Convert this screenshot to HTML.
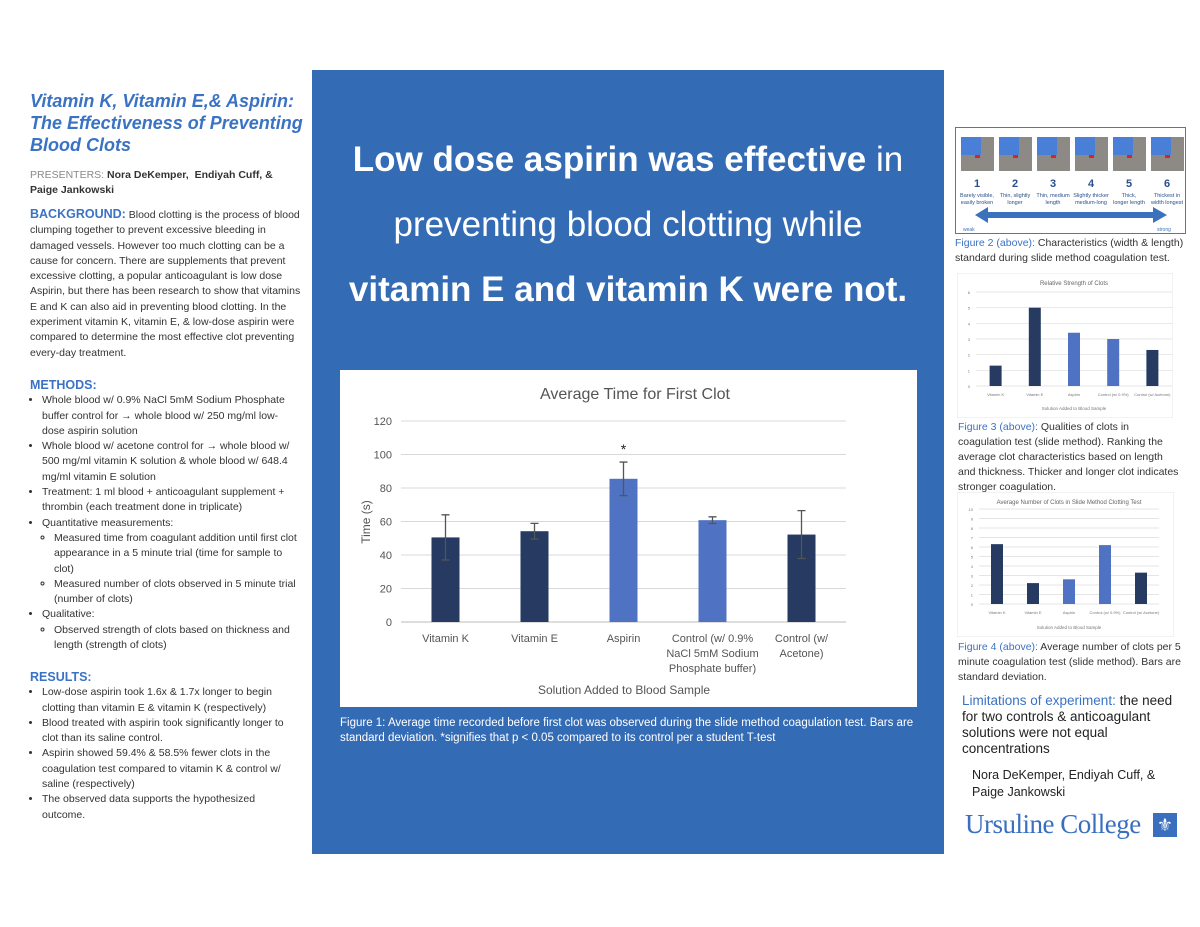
<!DOCTYPE html>
<html><head><meta charset="utf-8"><style>
body{margin:0;width:1200px;height:927px;background:#fff;position:relative;overflow:hidden;font-family:"Liberation Sans",sans-serif;color:#222}
.a{position:absolute}
.lc{font-size:10.5px;line-height:15.3px;color:#333}
.h{color:#3a72c4;font-weight:bold}
ul{margin:0;padding-left:12px}
li{margin:0}
.cap{font-size:10.5px;line-height:15px;color:#333}
.blue{color:#3a72c4}
</style></head><body>
<div class="a" style="left:30px;top:90px;width:280px;font-size:18px;line-height:22px;font-weight:bold;font-style:italic;color:#3a72c4">Vitamin K, Vitamin E,&amp; Aspirin: The Effectiveness of Preventing Blood Clots</div>
<div class="a lc" style="left:30px;top:168px;width:268px"><span style="color:#888">PRESENTERS:</span> <b>Nora DeKemper,&nbsp; Endiyah Cuff, &amp; Paige Jankowski</b></div>
<div class="a lc" style="left:30px;top:207px;width:275px"><span class="h" style="font-size:12.5px">BACKGROUND:</span> Blood clotting is the process of blood clumping together to prevent excessive bleeding in damaged vessels. However too much clotting can be a cause for concern. There are supplements that prevent excessive clotting, a popular anticoagulant is low dose Aspirin, but there has been research to show that vitamins E and K can also aid in preventing blood clotting. In the experiment vitamin K, vitamin E, &amp; low-dose aspirin were compared to determine the most effective clot preventing every-day treatment.</div>
<div class="a lc" style="left:30px;top:378px;width:268px"><div class="h" style="font-size:12.5px">METHODS:</div><ul>
<li>Whole blood w/ 0.9% NaCl 5mM Sodium Phosphate buffer control for → whole blood w/ 250 mg/ml low-dose aspirin solution</li>
<li>Whole blood w/ acetone control for → whole blood w/ 500 mg/ml vitamin K solution &amp; whole blood w/ 648.4 mg/ml vitamin E solution</li>
<li>Treatment: 1 ml blood + anticoagulant supplement + thrombin (each treatment done in triplicate)</li>
<li>Quantitative measurements:<ul><li>Measured time from coagulant addition until first clot appearance in a 5 minute trial (time for sample to clot)</li><li>Measured number of clots observed in 5 minute trial (number of clots)</li></ul></li>
<li>Qualitative:<ul><li>Observed strength of clots based on thickness and length (strength of clots)</li></ul></li></ul></div>
<div class="a lc" style="left:30px;top:670px;width:268px"><div class="h" style="font-size:12.5px">RESULTS:</div><ul>
<li>Low-dose aspirin took 1.6x &amp; 1.7x longer to begin clotting than vitamin E &amp; vitamin K (respectively)</li>
<li>Blood treated with aspirin took significantly longer to clot than its saline control.</li>
<li>Aspirin showed 59.4% &amp; 58.5% fewer clots in the coagulation test compared to vitamin K &amp; control w/ saline (respectively)</li>
<li>The observed data supports the hypothesized outcome.</li></ul></div>

<div class="a" style="left:312px;top:70px;width:632px;height:784px;background:#346bb5"></div>
<div class="a" style="left:312px;top:127px;width:632px;text-align:center;color:#fff;font-size:35px;line-height:65px"><b>Low dose aspirin was effective</b> in<br>preventing blood clotting while<br><b>vitamin E and vitamin K were not.</b></div>

<svg class="a" id="fig1" style="left:340px;top:370px" width="577" height="337"></svg>
<div class="a" style="left:340px;top:716px;width:590px;color:#fff;font-size:11.5px;line-height:15px">Figure 1: Average time recorded before first clot was observed during the slide method coagulation test. Bars are standard deviation. *signifies that p &lt; 0.05 compared to its control per a student T-test</div>

<svg class="a" id="fig2" style="left:955px;top:127px" width="231" height="107"></svg>
<div class="a cap" style="left:955px;top:236px;width:230px"><span class="blue">Figure 2 (above):</span> Characteristics (width &amp; length) standard during slide method coagulation test.</div>
<svg class="a" id="fig3" style="left:957px;top:273px" width="216" height="145"></svg>
<div class="a cap" style="left:958px;top:420px;width:225px"><span class="blue">Figure 3 (above):</span> Qualities of clots in coagulation test (slide method). Ranking the average clot characteristics based on length and thickness. Thicker and longer clot indicates stronger coagulation.</div>
<svg class="a" id="fig4" style="left:957px;top:492px" width="217" height="145"></svg>
<div class="a cap" style="left:958px;top:640px;width:225px"><span class="blue">Figure 4 (above):</span> Average number of clots per 5 minute coagulation test (slide method). Bars are standard deviation.</div>
<div class="a" style="left:962px;top:693px;width:212px;font-size:13.5px;line-height:16px;color:#222"><span class="blue">Limitations of experiment:</span> the need for two controls &amp; anticoagulant solutions were not equal concentrations</div>
<div class="a" style="left:972px;top:767px;width:205px;font-size:12.5px;line-height:16.5px;color:#222">Nora DeKemper, Endiyah Cuff, &amp; Paige Jankowski</div>
<div class="a" style="left:965px;top:809px;font-family:'Liberation Serif',serif;font-size:27px;color:#3a6fc0;letter-spacing:-0.5px">Ursuline College</div>
<div class="a" style="left:1153px;top:813px;width:24px;height:24px;background:#3a6fc0;color:#fff;font-size:18px;line-height:24px;text-align:center">⚜</div>

<script>
const NS="http://www.w3.org/2000/svg";
function mk(p,t,a){const e=document.createElementNS(NS,t);for(const k in a)e.setAttribute(k,a[k]);p.appendChild(e);return e;}
// Figure 1 data
const cats1=["Vitamin K","Vitamin E","Aspirin","Control (w/ 0.9%|NaCl 5mM Sodium|Phosphate buffer)","Control (w/|Acetone)"];
const vals1=[50.5,54.2,85.5,60.8,52.2];
const errs1=[13.5,4.7,10,2,14.3];
const cols1=["#263a62","#263a62","#4f73c2","#4f73c2","#263a62"];
const ticks1=[0,20,40,60,80,100,120];
const sig1=[false,false,true,false,false];
(function(){
 const s=document.getElementById('fig1');
 mk(s,'rect',{x:0,y:0,width:577,height:337,fill:'#fff'});
 const x0=61,x1=506,yb=252,yt=51,max=120;
 const Y=v=>yb-(v/max)*(yb-yt);
 const bw=(x1-x0)/cats1.length;
 let t=mk(s,'text',{x:295,y:29,'text-anchor':'middle','font-size':16,fill:'#555'});t.textContent="Average Time for First Clot";
 
 ticks1.forEach(v=>{const l=mk(s,'line',{x1:x0,x2:x1,y1:Y(v),y2:Y(v),stroke:v?'#d9d9d9':'#bbb'});
  
  const tt=mk(s,'text',{x:x0-9,y:Y(v)+4,'text-anchor':'end','font-size':11,fill:'#555'});tt.textContent=v;
  });
 cats1.forEach((c,i)=>{const cx=x0+bw*(i+0.5);
  const r=mk(s,'rect',{x:cx-14,y:Y(vals1[i]),width:28,height:yb-Y(vals1[i]),fill:cols1[i]});
  
  const eh=Y(vals1[i]+errs1[i]),el=Y(vals1[i]-errs1[i]);
  const g=mk(s,'path',{d:`M${cx},${eh}V${el}M${cx-4},${eh}H${cx+4}M${cx-4},${el}H${cx+4}`,stroke:'#555','stroke-width':1.3,fill:'none'});
  
  if(sig1[i]){const a=mk(s,'text',{x:cx,y:eh-8,'text-anchor':'middle','font-size':14,fill:'#222'});a.textContent='*';
   }
  c.split('|').forEach((ln,j)=>{const tt=mk(s,'text',{x:cx,y:272+j*15,'text-anchor':'middle','font-size':11,fill:'#555'});tt.textContent=ln;
   });
 });
 t=mk(s,'text',{x:284,y:324,'text-anchor':'middle','font-size':12,fill:'#555'});t.textContent="Solution Added to Blood Sample";
 
 t=mk(s,'text',{x:0,y:0,'text-anchor':'middle','font-size':12,fill:'#555',transform:'translate(30,152) rotate(-90)'});t.textContent="Time (s)";
 
})();
// Figure 2 illustration
const stages2=["1","2","3","4","5","6"];
const desc2=["Barely visible,|easily broken","Thin, slightly|longer","Thin, medium|length","Slightly thicker|medium-long","Thick,|longer length","Thickest in|width longest"];
(function(){
 const s=document.getElementById('fig2');
 mk(s,'rect',{x:0.5,y:0.5,width:230,height:106,fill:'#fff',stroke:'#4a78c0'});
 stages2.forEach((n,i)=>{const x=6+i*38;
  const r=mk(s,'rect',{x:x,y:10,width:33,height:34,fill:'#8d8a86'});
  mk(s,'rect',{x:x,y:10,width:20,height:18,fill:'#4a7fd8'});
  mk(s,'rect',{x:x+14,y:28,width:5,height:3,fill:'#d22'});
  const t=mk(s,'text',{x:x+16,y:60,'text-anchor':'middle','font-size':11,'font-weight':'bold',fill:'#2a4f8a'});t.textContent=n;
  
  desc2[i].split('|').forEach((d,j)=>{const tt=mk(s,'text',{x:x+16,y:70+j*7,'text-anchor':'middle','font-size':5.5,fill:'#2a4f8a'});tt.textContent=d;});
 });
 const ar=mk(s,'path',{d:'M20,88 L33,80 L33,85 L198,85 L198,80 L212,88 L198,96 L198,91 L33,91 L33,96 Z',fill:'#3c72bd'});
 
 let t=mk(s,'text',{x:8,y:104,'font-size':5,fill:'#3c72bd'});t.textContent='weak';
 t=mk(s,'text',{x:202,y:104,'font-size':5,fill:'#3c72bd'});t.textContent='strong';
})();
// Figure 3 data
const cats3=["Vitamin K","Vitamin E","Aspirin","Control (w/ 0.9%)","Control (w/ Acetone)"];
const vals3=[1.3,5,3.4,3.0,2.3];
const ticks3=[0,1,2,3,4,5,6];
const cols3=["#263a62","#263a62","#4f73c2","#4f73c2","#263a62"];
function small(id,title,cats,vals,ticks,cols,xt,xb,yb,yt,bw){
 const s=document.getElementById(id);
 mk(s,'rect',{x:0,y:0,width:s.getAttribute('width'),height:s.getAttribute('height'),fill:'#fff',stroke:'#e4e4e4'});
 const max=ticks[ticks.length-1];const Y=v=>yb-(v/max)*(yb-yt);const step=(xb-xt)/cats.length;
 let t=mk(s,'text',{x:(xt+xb)/2,y:12,'text-anchor':'middle','font-size':6,fill:'#666'});t.textContent=title;
 ticks.forEach(v=>{mk(s,'line',{x1:xt,x2:xb,y1:Y(v),y2:Y(v),stroke:'#ddd','stroke-width':0.7});
  const tt=mk(s,'text',{x:xt-6,y:Y(v)+2,'text-anchor':'end','font-size':4,fill:'#777'});tt.textContent=v;});
 cats.forEach((c,i)=>{const cx=xt+step*(i+.5);
  const r=mk(s,'rect',{x:cx-bw/2,y:Y(vals[i]),width:bw,height:yb-Y(vals[i]),fill:cols[i]});
  
  const tt=mk(s,'text',{x:cx,y:yb+10,'text-anchor':'middle','font-size':4,fill:'#777'});tt.textContent=c;});
 t=mk(s,'text',{x:(xt+xb)/2,y:s.getAttribute('height')-8,'text-anchor':'middle','font-size':4.5,fill:'#777'});t.textContent='Solution Added to Blood Sample';
}
small('fig3','Relative Strength of Clots',cats3,vals3,ticks3,cols3,19,234-19,113,19,12);
// Figure 4 data
const cats4=["Vitamin K","Vitamin E","Aspirin","Control (w/ 0.9%)","Control (w/ Acetone)"];
const vals4=[6.3,2.2,2.6,6.2,3.3];
const ticks4=[0,1,2,3,4,5,6,7,8,9,10];
const cols4=["#263a62","#263a62","#4f73c2","#4f73c2","#263a62"];
small('fig4','Average Number of Clots in Slide Method Clotting Test',cats4,vals4,ticks4,cols4,22,213-11,112,17,12);
</script>
</body></html>
